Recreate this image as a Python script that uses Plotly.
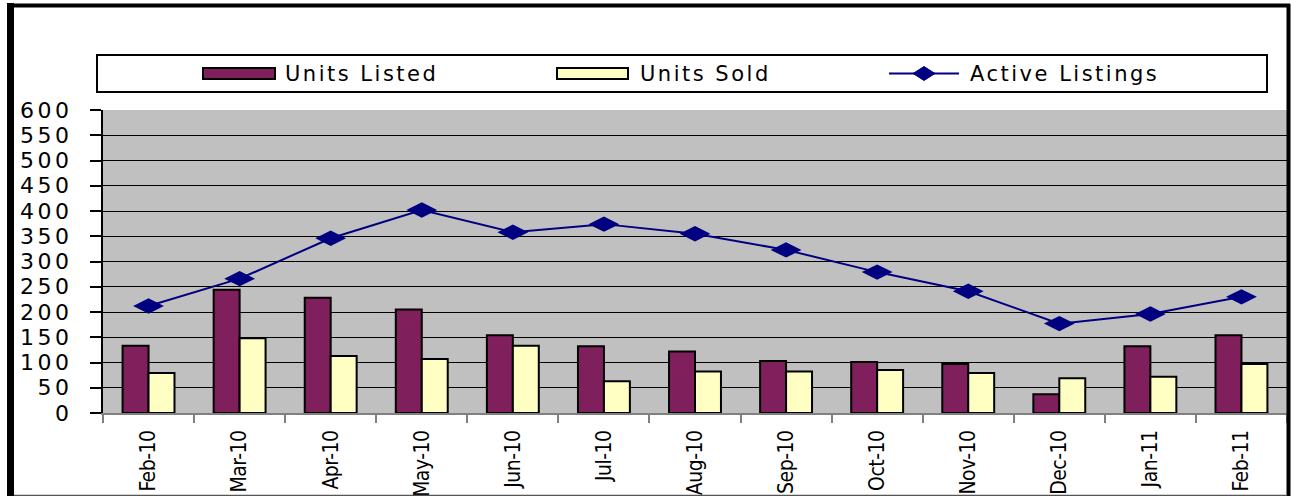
import plotly.graph_objects as go

months = ["Feb-10", "Mar-10", "Apr-10", "May-10", "Jun-10", "Jul-10", "Aug-10",
          "Sep-10", "Oct-10", "Nov-10", "Dec-10", "Jan-11", "Feb-11"]
units_listed = [133, 244, 228, 205, 154, 132, 122, 103, 101, 97, 37, 132, 154]
units_sold = [79, 148, 113, 107, 133, 63, 82, 82, 85, 79, 69, 72, 97]
active_listings = [212, 266, 346, 402, 358, 374, 355, 323, 279, 241, 177, 196, 230]
series_names = ["Units Listed", "Units Sold", "Active Listings"]
y_ticks = list(range(0, 601, 50))

C_LISTED = "#7F1F5C"
C_SOLD = "#FFFFC4"
C_ACTIVE = "#000080"

W, H = 1291, 496
L, R, T, B = 103, 4, 110, 83
PW, PH = W - L - R, H - T - B


def px(x):
    return (x - L) / PW


def py(y):
    return (H - B - y) / PH


def spaced(s, sp):
    return '<span style="letter-spacing:{}px">{}</span>'.format(sp, s)


fig = go.Figure()
fig.add_trace(go.Bar(x=months, y=units_listed, name=series_names[0],
                     marker=dict(color=C_LISTED, line=dict(color="black", width=2))))
fig.add_trace(go.Bar(x=months, y=units_sold, name=series_names[1],
                     marker=dict(color=C_SOLD, line=dict(color="black", width=2))))
fig.add_trace(go.Scatter(x=months, y=active_listings, name=series_names[2], mode="lines+markers",
                         line=dict(color=C_ACTIVE, width=2),
                         marker=dict(symbol="diamond-wide", size=22, color=C_ACTIVE)))

shapes = []
annotations = []
# outer frame
shapes.append(dict(type="line", xref="paper", yref="paper", x0=px(10.5), x1=px(10.5), y0=py(3), y1=py(500),
                   line=dict(color="black", width=7)))
shapes.append(dict(type="line", xref="paper", yref="paper", x0=px(7), x1=px(1290), y0=py(5.5), y1=py(5.5),
                   line=dict(color="black", width=4)))
shapes.append(dict(type="line", xref="paper", yref="paper", x0=px(1288.5), x1=px(1288.5), y0=py(4), y1=py(500),
                   line=dict(color="black", width=4)))
shapes.append(dict(type="line", xref="paper", yref="paper", x0=px(14), x1=px(1287), y0=py(495.5), y1=py(495.5),
                   line=dict(color="#555555", width=1.5)))
# legend box
shapes.append(dict(type="rect", xref="paper", yref="paper", x0=px(97), x1=px(1267), y0=py(92), y1=py(55),
                   line=dict(color="black", width=2), fillcolor="white"))
# legend swatches
shapes.append(dict(type="rect", xref="paper", yref="paper", x0=px(203), x1=px(275), y0=py(79), y1=py(68),
                   line=dict(color="black", width=2), fillcolor=C_LISTED))
shapes.append(dict(type="rect", xref="paper", yref="paper", x0=px(557), x1=px(628), y0=py(79), y1=py(68),
                   line=dict(color="black", width=2), fillcolor=C_SOLD))
shapes.append(dict(type="line", xref="paper", yref="paper", x0=px(889), x1=px(959), y0=py(73.5), y1=py(73.5),
                   line=dict(color=C_ACTIVE, width=2)))
cx, cy = 924, 73.5
shapes.append(dict(type="path", xref="paper", yref="paper",
                   path="M {} {} L {} {} L {} {} L {} {} Z".format(
                       px(cx - 11), py(cy), px(cx), py(cy - 7), px(cx + 11), py(cy), px(cx), py(cy + 7)),
                   fillcolor=C_ACTIVE, line=dict(color=C_ACTIVE, width=1)))
for name, tx in zip(series_names, [283, 638, 968]):
    annotations.append(dict(text=spaced(name, 2.5), xref="paper", yref="paper", x=px(tx), y=py(74),
                            xanchor="left", yanchor="middle", showarrow=False,
                            font=dict(family="DejaVu Sans", size=21, color="black")))

fig.update_layout(
    width=W, height=H,
    margin=dict(l=L, r=R, t=T, b=B),
    paper_bgcolor="white",
    plot_bgcolor="#C0C0C0",
    showlegend=False,
    barmode="group",
    bargap=0.43,
    bargroupgap=0,
    shapes=shapes,
    annotations=annotations,
    xaxis=dict(type="category", range=[-0.5, len(months) - 0.5], tickangle=-90, showgrid=False,
               showline=True, linecolor="#808080",
               linewidth=2, ticks="outside", tickson="boundaries", ticklen=8, tickcolor="#808080",
               tickwidth=2, tickmode="array", tickvals=months,
               ticktext=[spaced(m, -0.5) for m in months],
               tickfont=dict(family="Liberation Sans Narrow, DejaVu Sans Condensed, Arial Narrow",
                             size=21, color="black"),
               ticklabelstandoff=7, automargin=False),
    yaxis=dict(range=[0, 600], tickmode="array", tickvals=y_ticks,
               ticktext=[spaced(str(v), 3.5) for v in y_ticks],
               showgrid=True, gridcolor="black", gridwidth=1, zeroline=False,
               showline=True, linecolor="black", linewidth=2, ticks="outside", ticklen=11,
               tickcolor="black", tickwidth=2,
               tickfont=dict(family="DejaVu Sans", size=22, color="black"),
               ticklabelstandoff=13, automargin=False),
)

fig.write_html("out.html", config={"displayModeBar": False},
               post_script="document.body.style.margin='0px';")
